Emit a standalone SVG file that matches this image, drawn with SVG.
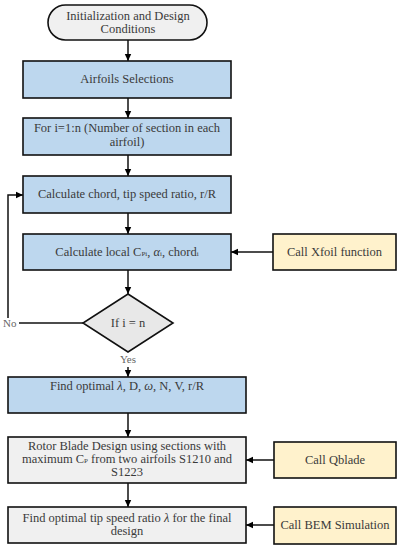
<svg xmlns="http://www.w3.org/2000/svg" width="400" height="550" viewBox="0 0 400 550">
<defs>
<marker id="arr" markerWidth="8" markerHeight="8" refX="7" refY="4" orient="auto" markerUnits="userSpaceOnUse">
<path d="M0,0.8 L7,4 L0,7.2 Z" fill="#000"/>
</marker>
<style>
.blue{fill:#bdd7ee;stroke:#111;stroke-width:1.6}
.gray{fill:#f0f0f0;stroke:#111;stroke-width:1.6}
.yel{fill:#fff2cc;stroke:#111;stroke-width:1.6}
.t{font-family:"Liberation Serif","Times New Roman",serif;font-size:12.5px;fill:#3a3a3a;text-anchor:middle}
.lbl{font-family:"Liberation Serif","Times New Roman",serif;font-size:11px;fill:#666}
.sub{font-size:7px}
.c{fill:none;stroke:#111;stroke-width:1.5}
</style>
</defs>
<rect width="400" height="550" fill="#fff"/>
<g id="connectors">
<path class="c" d="M128,40 V61" marker-end="url(#arr)"/>
<path class="c" d="M128,98 V118" marker-end="url(#arr)"/>
<path class="c" d="M128,155 V176" marker-end="url(#arr)"/>
<path class="c" d="M128,213 V234" marker-end="url(#arr)"/>
<path class="c" d="M128,270 V294" marker-end="url(#arr)"/>
<path class="c" d="M273,252 H231" marker-end="url(#arr)"/>
<path class="c" d="M83,323 H19"/>
<path class="c" d="M8,318 V195 H23" marker-end="url(#arr)"/>
<path class="c" d="M128,367 V377" marker-end="url(#arr)"/>
<path class="c" d="M128,413 V437" marker-end="url(#arr)"/>
<path class="c" d="M274,460 H246" marker-end="url(#arr)"/>
<path class="c" d="M128,483 V507" marker-end="url(#arr)"/>
<path class="c" d="M274,525 H246" marker-end="url(#arr)"/>
<text class="lbl" x="3" y="327">No</text>
<text class="lbl" x="128" y="363" text-anchor="middle">Yes</text>
</g>
<g id="start">
<rect class="gray" x="48" y="5" width="159" height="35" rx="17.5"/>
<text class="t" x="128" y="20">Initialization and Design</text>
<text class="t" x="128" y="33">Conditions</text>
</g>
<g id="airfoils">
<rect class="blue" x="23" y="61" width="208" height="37"/>
<text class="t" x="127" y="83">Airfoils Selections</text>
</g>
<g id="loop">
<rect class="blue" x="23" y="118" width="208" height="37"/>
<text class="t" x="127" y="132">For i=1:n (Number of section in each</text>
<text class="t" x="127" y="146">airfoil)</text>
</g>
<g id="chord">
<rect class="blue" x="23" y="176" width="208" height="37"/>
<text class="t" x="127" y="198">Calculate chord, tip speed ratio, r/R</text>
</g>
<g id="local">
<rect class="blue" x="23" y="234" width="208" height="36"/>
<text class="t" x="127" y="256">Calculate local C<tspan class="sub">Pi</tspan>, <tspan font-style="italic">α</tspan><tspan class="sub">i</tspan>, chord<tspan class="sub">i</tspan></text>
</g>
<g id="xfoil">
<rect class="yel" x="273" y="234" width="123" height="36"/>
<text class="t" x="334.5" y="256">Call Xfoil function</text>
</g>
<g id="decision">
<polygon points="128,294 173,323 128,352 83,323" fill="#e8e8e8" stroke="#111" stroke-width="1.6"/>
<text class="t" x="128" y="327">If i = n</text>
</g>
<g id="optimal">
<rect class="blue" x="8" y="377" width="238" height="36"/>
<text class="t" x="127" y="390">Find optimal <tspan font-style="italic">λ</tspan>, D, <tspan font-style="italic">ω</tspan>, N, V, r/R</text>
</g>
<g id="rotor">
<rect class="gray" x="8" y="437" width="238" height="46"/>
<text class="t" x="127" y="450">Rotor Blade Design using sections with</text>
<text class="t" x="127" y="463">maximum C<tspan class="sub">P</tspan> from two airfoils S1210 and</text>
<text class="t" x="127" y="476">S1223</text>
</g>
<g id="qblade">
<rect class="yel" x="274" y="442" width="122" height="36"/>
<text class="t" x="335" y="464">Call Qblade</text>
</g>
<g id="final">
<rect class="gray" x="8" y="507" width="238" height="36"/>
<text class="t" x="127" y="522">Find optimal tip speed ratio <tspan font-style="italic">λ</tspan> for the final</text>
<text class="t" x="127" y="535">design</text>
</g>
<g id="bem">
<rect class="yel" x="274" y="507" width="122" height="37"/>
<text class="t" x="335" y="529">Call BEM Simulation</text>
</g>
</svg>
